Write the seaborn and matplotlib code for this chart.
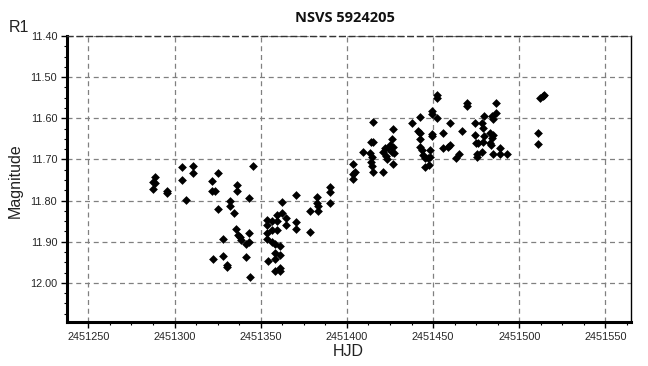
import pandas as pd
import matplotlib
matplotlib.use('Agg')
import matplotlib.pyplot as plt
from matplotlib.ticker import MultipleLocator, FormatStrFormatter
import seaborn as sns

# Light curve values (HJD offset from 2451000, R1 magnitude)
hjd_offset = 2451000
hjd = [
    288.7, 287.4, 288.7, 287.4, 295.5, 295.5, 304.3, 310.7, 310.7, 304.3,
    306.7, 325.2, 321.7, 321.7, 323.5, 345.5, 336.2, 336.2, 343.2, 332.2,
    332.2, 325.2, 334.5, 335.7, 343.2, 336.8, 338.0, 338.6, 328.1, 341.5,
    343.2, 322.3, 328.1, 330.4, 330.4, 341.5, 343.8,
    353.6, 353.6, 356.5, 359.4, 359.4, 362.3, 364.7, 364.7, 370.5, 370.5,
    378.6, 353.6, 356.5, 359.4, 353.6, 356.5, 358.3, 361.2, 358.3, 361.2,
    358.3, 354.2, 358.3, 361.2, 361.2, 370.5, 362.3, 382.6, 382.6, 383.2,
    383.2, 378.6, 390.2, 390.2, 390.2,
    403.7, 404.7, 403.7, 403.4, 409.2, 413.8, 415.3, 415.3, 413.4, 414.4,
    413.8, 414.4, 415.3, 421.1, 422.1, 421.1, 422.7, 423.1, 426.9, 426.0,
    426.9, 425.0, 426.0, 426.6, 424.0, 427.3, 437.6, 442.4, 441.1, 442.4,
    442.4, 442.4, 443.4, 444.3, 445.3, 448.2, 449.2, 449.2, 448.2, 447.8,
    445.3, 449.2, 449.2, 452.1, 452.1, 452.1, 447.2,
    469.8, 469.8, 486.5, 479.5, 484.0, 486.5, 484.6, 459.8, 474.3, 478.2,
    479.1, 466.6, 455.6, 474.3, 479.5, 483.0, 484.9, 484.0, 483.0, 479.1,
    476.2, 474.9, 455.6, 458.8, 459.8, 483.4, 488.8, 478.2, 475.6, 475.3,
    484.9, 488.8, 493.0, 465.2, 463.3, 512.0, 513.6, 514.3, 511.0, 511.0,
]
magnitude = [
    11.742, 11.755, 11.757, 11.772, 11.776, 11.781, 11.718, 11.716, 11.733, 11.750,
    11.798, 11.733, 11.752, 11.776, 11.776, 11.716, 11.762, 11.776, 11.793, 11.801,
    11.813, 11.820, 11.830, 11.869, 11.878, 11.883, 11.888, 11.896, 11.893, 11.905,
    11.900, 11.942, 11.934, 11.956, 11.961, 11.937, 11.985,
    11.847, 11.859, 11.849, 11.849, 11.835, 11.830, 11.842, 11.859, 11.852, 11.869,
    11.876, 11.879, 11.871, 11.871, 11.893, 11.900, 11.905, 11.910, 11.927, 11.932,
    11.942, 11.947, 11.971, 11.964, 11.971, 11.786, 11.803, 11.791, 11.806, 11.813,
    11.825, 11.825, 11.767, 11.779, 11.806,
    11.712, 11.730, 11.736, 11.747, 11.681, 11.657, 11.657, 11.608, 11.685, 11.693,
    11.707, 11.715, 11.731, 11.731, 11.673, 11.681, 11.691, 11.699, 11.710, 11.681,
    11.669, 11.665, 11.651, 11.627, 11.673, 11.685, 11.611, 11.598, 11.632, 11.636,
    11.651, 11.669, 11.677, 11.689, 11.696, 11.677, 11.639, 11.642, 11.693, 11.713,
    11.719, 11.582, 11.590, 11.600, 11.543, 11.551, 11.697,
    11.562, 11.570, 11.562, 11.594, 11.594, 11.588, 11.602, 11.611, 11.612, 11.612,
    11.624, 11.632, 11.636, 11.640, 11.643, 11.635, 11.640, 11.648, 11.659, 11.657,
    11.661, 11.661, 11.671, 11.669, 11.665, 11.665, 11.673, 11.681, 11.687, 11.693,
    11.687, 11.687, 11.687, 11.687, 11.696, 11.551, 11.546, 11.543, 11.635, 11.663,
]

df = pd.DataFrame({'HJD': [hjd_offset + h for h in hjd], 'Magnitude': magnitude})

sns.set_style('white')
plt.rcParams['font.family'] = ['Liberation Sans', 'DejaVu Sans']

fig = plt.figure(figsize=(6.48, 3.66), dpi=100)
ax = fig.add_axes([67 / 648, 44 / 366, 564 / 648, 286 / 366])

sns.scatterplot(data=df, x='HJD', y='Magnitude', marker='D', s=20,
                color='black', edgecolor='black', linewidth=0, ax=ax, zorder=3)

ax.set_xlim(2451237.6, 2451564.8)
ax.set_ylim(12.095, 11.40)

# ticks and grid
ax.xaxis.set_major_locator(MultipleLocator(50))
ax.xaxis.set_minor_locator(MultipleLocator(12.5))
ax.yaxis.set_major_locator(MultipleLocator(0.1))
ax.yaxis.set_minor_locator(MultipleLocator(0.025))
ax.xaxis.set_major_formatter(FormatStrFormatter('%d'))
ax.yaxis.set_major_formatter(FormatStrFormatter('%.2f'))
ax.tick_params(axis='both', which='major', direction='out', length=4, width=1,
               labelsize=7.8, color='black', pad=3, bottom=True, left=True,
               top=False, right=False)
ax.tick_params(axis='both', which='minor', direction='out', length=2.5, width=0.8,
               color='black', bottom=True, left=True, top=False, right=False)
ax.grid(True, which='major', color='#808080', linestyle=(0, (4, 3)), linewidth=0.9)

# frame
for side in ['left', 'bottom']:
    ax.spines[side].set_linewidth(2.2)
    ax.spines[side].set_color('black')
ax.spines['right'].set_linewidth(1)
ax.spines['right'].set_color('black')
ax.spines['top'].set_linewidth(1)
ax.spines['top'].set_color('#333333')
ax.spines['top'].set_linestyle((0, (4, 3)))

ax.set_xlabel('')
ax.set_ylabel('')
fig.text(348 / 648, 1 - 352 / 366, 'HJD', ha='center', va='center', fontsize=11.5, color='#222222')
fig.text(15 / 648, 1 - 181 / 366, 'Magnitude', ha='center', va='center', rotation=90,
         fontsize=11.5, color='#222222')
fig.text(9 / 648, 1 - 27 / 366, 'R1', ha='left', va='center', fontsize=11.5, color='#222222')
fig.text(345 / 648, 1 - 18 / 366, 'NSVS 5924205', ha='center', va='center', fontsize=10.5,
         fontweight='bold', family=['Open Sans', 'DejaVu Sans'], color='#111111')

fig.savefig('out.png', dpi=100)
